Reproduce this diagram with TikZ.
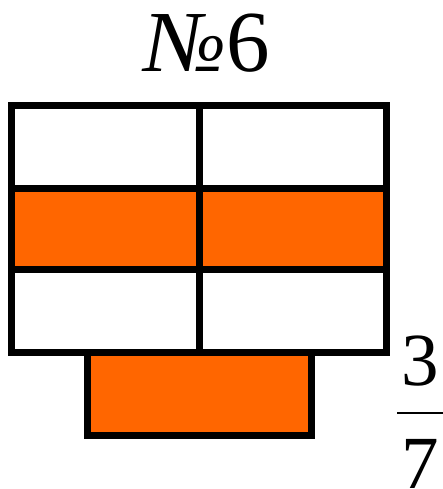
\documentclass[tikz,border=0pt]{standalone}
\usepackage{fontspec}
\setmainfont{Liberation Serif}
\definecolor{fillorange}{HTML}{FF6600}
\begin{document}
\begin{tikzpicture}[x=1pt,y=1pt,
  cell/.style={draw=black,line width=7pt,line join=miter},
  big/.style={font=\fontsize{87}{90}\selectfont,inner sep=0pt,anchor=base},
  digit/.style={font=\fontsize{75}{78}\selectfont,inner sep=0pt,anchor=base}]
\useasboundingbox (0,0) rectangle (443,489);
% top row
\draw[cell,fill=white] (11.5,383.5) rectangle (199.5,300.5);
\draw[cell,fill=white] (199.5,383.5) rectangle (386.5,300.5);
% middle row
\draw[cell,fill=fillorange] (11.5,300.5) rectangle (199.5,219);
\draw[cell,fill=fillorange] (199.5,300.5) rectangle (386.5,219);
% bottom row
\draw[cell,fill=white] (11.5,219) rectangle (199.5,136);
\draw[cell,fill=white] (199.5,219) rectangle (386.5,136);
% extra part
\draw[cell,fill=fillorange] (87,136) rectangle (311.5,53.5);
% title
\node[big] (title) at (207.5,417) {{\itshape №}6};
% fraction
\node[digit] (num) at (420,103) {3};
\node[digit] (den) at (420,1) {7};
\coordinate (barL) at (397,76);
\coordinate (barR) at (445,76);
\draw[line width=2.5pt] (barL) -- (barR);
\end{tikzpicture}
\end{document}
